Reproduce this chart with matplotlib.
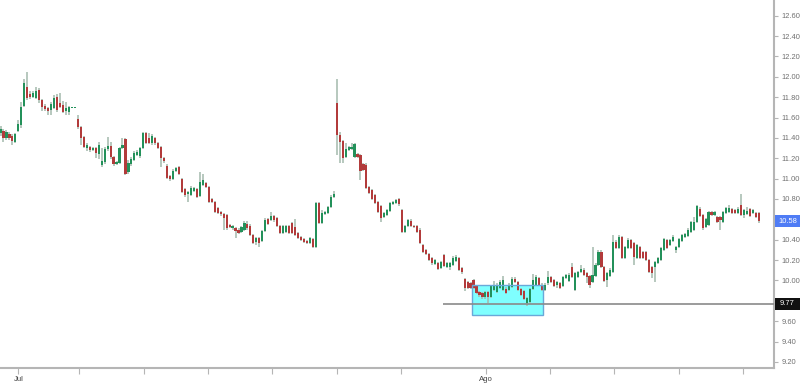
import matplotlib
matplotlib.use("Agg")
import matplotlib.pyplot as plt
from matplotlib.patches import Rectangle

# ----- candle data (hourly bars) -----
opens = [
    11.45, 11.47, 11.40, 11.44, 11.42, 11.36, 11.47, 11.53, 11.71,
    11.90, 11.83, 11.80, 11.79, 11.87, 11.77, 11.71, 11.69, 11.67, 11.69,
    11.80, 11.74, 11.72, 11.66, 11.65, 11.69, 11.69, 11.59, 11.51,
    11.41, 11.30, 11.31, 11.28, 11.30, 11.24, 11.13, 11.16, 11.29, 11.32,
    11.21, 11.14, 11.15, 11.30, 11.39, 11.06, 11.14, 11.18, 11.23,
    11.22, 11.30, 11.45, 11.40, 11.35, 11.40, 11.35, 11.31, 11.20,
    11.12, 11.03, 11.00, 11.07, 11.11, 11.00, 10.90, 10.85, 10.84,
    10.88, 10.90, 10.83, 10.94, 10.96, 10.92, 10.80, 10.77, 10.71, 10.67,
    10.65, 10.64, 10.54, 10.51, 10.51, 10.50, 10.48, 10.50, 10.55,
    10.53, 10.45, 10.38, 10.42, 10.39, 10.49, 10.60, 10.59, 10.63, 10.61,
    10.53, 10.47, 10.48, 10.53, 10.56, 10.52, 10.47, 10.43,
    10.41, 10.39, 10.37, 10.41, 10.33, 10.76, 10.56, 10.65, 10.66,
    10.72, 10.82, 11.74, 11.43, 11.37, 11.21, 11.28, 11.29, 11.21, 11.24,
    11.23, 11.14, 11.13, 10.92, 10.89, 10.84, 10.77, 10.73, 10.62, 10.64,
    10.68, 10.75, 10.76, 10.80, 10.69, 10.48, 10.53, 10.58, 10.53, 10.53,
    10.50, 10.35, 10.30, 10.26, 10.22, 10.16, 10.17, 10.12, 10.25, 10.13,
    10.13, 10.15, 10.19, 10.22, 10.12, 10.01, 9.98, 9.97, 10.00, 9.95,
    9.89, 9.88, 9.84, 9.89, 9.84, 9.91, 9.89, 9.93, 9.91, 9.92,
    9.91, 9.94, 10.01, 9.98, 9.92, 9.90, 9.78, 9.79, 9.92, 9.96,
    10.02, 9.96, 9.91, 9.97, 10.03, 10.00, 9.96, 9.97, 9.95, 10.02,
    9.99, 10.13, 9.91, 10.03, 10.08, 10.10, 10.07, 10.04, 9.98, 10.04,
    10.15, 10.28, 10.13, 10.00, 10.04, 10.08, 10.38, 10.32, 10.43, 10.22,
    10.32, 10.40, 10.37, 10.22, 10.33, 10.28, 10.28, 10.20, 10.13, 10.13,
    10.17, 10.20, 10.30, 10.40, 10.35, 10.39, 10.30, 10.33, 10.39, 10.43,
    10.44, 10.48, 10.50, 10.57, 10.70, 10.64, 10.52, 10.54, 10.67, 10.64,
    10.62, 10.62, 10.57, 10.66, 10.67, 10.70, 10.69, 10.66, 10.74, 10.64,
    10.65, 10.70, 10.66, 10.66, 10.66,
]
highs = [
    11.52, 11.49, 11.48, 11.46, 11.44, 11.45, 11.58, 11.75, 11.98,
    12.05, 11.86, 11.86, 11.90, 11.89, 11.78, 11.73, 11.70, 11.75, 11.82,
    11.83, 11.84, 11.76, 11.75, 11.71, 11.69, 11.69, 11.62, 11.52,
    11.42, 11.35, 11.32, 11.31, 11.31, 11.36, 11.30, 11.31, 11.41, 11.36,
    11.22, 11.17, 11.31, 11.40, 11.40, 11.18, 11.21, 11.27, 11.28,
    11.31, 11.46, 11.46, 11.45, 11.44, 11.41, 11.36, 11.32, 11.21,
    11.14, 11.04, 11.09, 11.11, 11.12, 11.01, 10.91, 10.88, 10.93,
    10.92, 10.91, 11.06, 11.05, 10.97, 10.93, 10.81, 10.78, 10.72, 10.68,
    10.66, 10.65, 10.55, 10.54, 10.52, 10.51, 10.53, 10.58, 10.58,
    10.55, 10.46, 10.43, 10.43, 10.50, 10.61, 10.61, 10.67, 10.64, 10.62,
    10.54, 10.54, 10.54, 10.54, 10.57, 10.60, 10.48, 10.44,
    10.42, 10.40, 10.43, 10.42, 10.77, 10.77, 10.69, 10.68, 10.73,
    10.84, 10.88, 11.98, 11.46, 11.38, 11.35, 11.32, 11.35, 11.35, 11.25,
    11.24, 11.15, 11.15, 10.93, 10.90, 10.85, 10.78, 10.74, 10.67, 10.70,
    10.77, 10.78, 10.80, 10.81, 10.70, 10.54, 10.60, 10.60, 10.54, 10.54,
    10.51, 10.36, 10.31, 10.27, 10.23, 10.21, 10.18, 10.19, 10.26, 10.18,
    10.18, 10.24, 10.25, 10.23, 10.13, 10.02, 9.99, 9.98, 10.01, 9.96,
    9.90, 9.89, 9.90, 9.90, 9.96, 9.99, 9.97, 10.00, 10.04, 9.94,
    9.97, 10.03, 10.03, 9.99, 9.93, 9.91, 9.84, 9.93, 10.06, 10.05,
    10.03, 9.97, 9.97, 10.09, 10.04, 10.01, 9.99, 9.98, 10.04, 10.06,
    10.07, 10.17, 10.08, 10.09, 10.15, 10.12, 10.08, 10.05, 10.33, 10.17,
    10.30, 10.30, 10.14, 10.08, 10.12, 10.45, 10.40, 10.45, 10.44, 10.34,
    10.42, 10.41, 10.38, 10.36, 10.34, 10.29, 10.29, 10.21, 10.14, 10.19,
    10.23, 10.33, 10.42, 10.41, 10.41, 10.45, 10.34, 10.42, 10.46, 10.47,
    10.51, 10.58, 10.62, 10.74, 10.72, 10.65, 10.61, 10.68, 10.68, 10.68,
    10.63, 10.63, 10.68, 10.72, 10.74, 10.71, 10.70, 10.72, 10.85, 10.70,
    10.72, 10.71, 10.70, 10.67, 10.67,
]
lows = [
    11.42, 11.36, 11.38, 11.38, 11.33, 11.35, 11.46, 11.50, 11.70,
    11.77, 11.78, 11.79, 11.78, 11.74, 11.66, 11.66, 11.62, 11.62, 11.68,
    11.65, 11.69, 11.64, 11.62, 11.62, 11.69, 11.69, 11.49, 11.33,
    11.30, 11.27, 11.26, 11.27, 11.20, 11.19, 11.11, 11.14, 11.27, 11.19,
    11.12, 11.13, 11.14, 11.29, 11.04, 11.05, 11.12, 11.17, 11.22,
    11.20, 11.29, 11.34, 11.34, 11.33, 11.33, 11.29, 11.11, 11.15,
    11.00, 10.98, 10.99, 11.06, 11.04, 10.86, 10.82, 10.77, 10.83,
    10.87, 10.81, 10.82, 10.93, 10.91, 10.76, 10.76, 10.66, 10.65, 10.63,
    10.50, 10.50, 10.51, 10.50, 10.42, 10.46, 10.47, 10.49, 10.50,
    10.44, 10.36, 10.35, 10.33, 10.38, 10.48, 10.54, 10.58, 10.57, 10.52,
    10.46, 10.46, 10.47, 10.46, 10.46, 10.44, 10.41, 10.39,
    10.37, 10.36, 10.36, 10.32, 10.32, 10.55, 10.55, 10.64, 10.65,
    10.71, 10.81, 11.23, 11.15, 11.15, 11.20, 11.27, 11.28, 11.20, 11.20,
    10.99, 11.07, 10.90, 10.85, 10.79, 10.75, 10.66, 10.57, 10.61, 10.63,
    10.67, 10.74, 10.75, 10.73, 10.47, 10.47, 10.52, 10.52, 10.51, 10.47,
    10.36, 10.27, 10.25, 10.19, 10.15, 10.15, 10.10, 10.11, 10.13, 10.12,
    10.10, 10.14, 10.18, 10.09, 10.06, 9.90, 9.92, 9.92, 9.92, 9.87,
    9.84, 9.82, 9.82, 9.78, 9.83, 9.90, 9.88, 9.92, 9.90, 9.87,
    9.90, 9.93, 9.97, 9.90, 9.85, 9.81, 9.75, 9.78, 9.91, 9.95,
    9.95, 9.90, 9.90, 9.96, 9.97, 9.94, 9.93, 9.92, 9.94, 10.01,
    9.98, 10.02, 9.90, 10.02, 10.07, 10.04, 9.97, 9.93, 9.97, 10.03,
    10.14, 10.12, 9.98, 9.94, 10.03, 10.07, 10.31, 10.31, 10.21, 10.21,
    10.31, 10.31, 10.15, 10.21, 10.21, 10.21, 10.19, 10.07, 10.02, 9.98,
    10.16, 10.19, 10.29, 10.31, 10.34, 10.38, 10.27, 10.32, 10.38, 10.42,
    10.43, 10.47, 10.49, 10.56, 10.62, 10.50, 10.51, 10.53, 10.63, 10.63,
    10.56, 10.50, 10.56, 10.65, 10.66, 10.65, 10.65, 10.65, 10.63, 10.61,
    10.64, 10.62, 10.65, 10.61, 10.56,
]
closes = [
    11.49, 11.40, 11.46, 11.40, 11.37, 11.44, 11.54, 11.70, 11.94,
    11.79, 11.80, 11.84, 11.86, 11.77, 11.70, 11.68, 11.66, 11.73, 11.79,
    11.67, 11.70, 11.65, 11.69, 11.70, 11.69, 11.69, 11.51, 11.40,
    11.31, 11.33, 11.28, 11.30, 11.25, 11.33, 11.17, 11.29, 11.32, 11.21,
    11.14, 11.16, 11.30, 11.33, 11.05, 11.15, 11.19, 11.25, 11.26,
    11.30, 11.45, 11.35, 11.35, 11.42, 11.35, 11.30, 11.20, 11.17,
    11.01, 11.00, 11.07, 11.10, 11.05, 10.87, 10.84, 10.87, 10.91,
    10.91, 10.82, 10.97, 10.99, 10.92, 10.77, 10.77, 10.67, 10.66, 10.65,
    10.61, 10.51, 10.52, 10.53, 10.49, 10.47, 10.52, 10.56, 10.51,
    10.45, 10.37, 10.42, 10.37, 10.49, 10.59, 10.55, 10.63, 10.59, 10.53,
    10.47, 10.53, 10.53, 10.47, 10.47, 10.45, 10.42, 10.40,
    10.38, 10.37, 10.42, 10.33, 10.76, 10.56, 10.66, 10.67, 10.72,
    10.82, 10.85, 11.43, 11.36, 11.20, 11.29, 11.31, 11.31, 11.34, 11.21,
    11.07, 11.08, 10.91, 10.86, 10.80, 10.76, 10.67, 10.61, 10.66, 10.69,
    10.76, 10.77, 10.79, 10.75, 10.48, 10.53, 10.59, 10.53, 10.52, 10.48,
    10.37, 10.28, 10.26, 10.20, 10.17, 10.20, 10.11, 10.18, 10.14, 10.17,
    10.17, 10.22, 10.23, 10.10, 10.08, 9.93, 9.93, 9.93, 9.93, 9.88,
    9.86, 9.84, 9.89, 9.84, 9.95, 9.96, 9.95, 9.98, 10.00, 9.88,
    9.96, 10.01, 9.98, 9.91, 9.86, 9.82, 9.83, 9.92, 10.00, 10.03,
    9.96, 9.91, 9.96, 10.03, 9.98, 9.95, 9.98, 9.93, 10.03, 10.05,
    10.05, 10.03, 10.07, 10.08, 10.11, 10.05, 10.03, 9.96, 10.05, 10.15,
    10.28, 10.13, 9.99, 10.07, 10.10, 10.38, 10.32, 10.43, 10.22, 10.33,
    10.40, 10.32, 10.23, 10.35, 10.22, 10.22, 10.20, 10.08, 10.07, 10.18,
    10.22, 10.32, 10.41, 10.32, 10.40, 10.43, 10.33, 10.41, 10.45, 10.46,
    10.50, 10.57, 10.57, 10.73, 10.63, 10.51, 10.60, 10.67, 10.64, 10.67,
    10.57, 10.59, 10.67, 10.71, 10.71, 10.66, 10.66, 10.70, 10.64, 10.69,
    10.68, 10.63, 10.69, 10.62, 10.58,
]

# axis labels / annotations
price_ticks = [9.20, 9.40, 9.60, 9.80, 10.00, 10.20, 10.40, 10.60, 10.80,
               11.00, 11.20, 11.40, 11.60, 11.80, 12.00, 12.20, 12.40, 12.60]
day_ticks = [6.0, 26.4, 48.2, 69.7, 91.3, 113.1, 134.5, 163.2, 184.7, 206.2, 228.1, 249.6]
day_labels = ["Jul", "", "", "", "", "", "", "Ago", "", "", "", ""]
last_price = 10.58
support = 9.77
support_from = 148.7
zone_x = (158.5, 182.5)
zone_y = (9.66, 9.955)

UP = "#23915a"
DOWN = "#b23b3b"
WICK = "#a3b9ac"
FONT = ["Liberation Sans", "DejaVu Sans"]

fig = plt.figure(figsize=(8.0, 3.83), dpi=100)
ax = fig.add_axes([0.0, 15 / 383, 774 / 800, 368 / 383])

x = list(range(len(closes)))
body_lo = [min(o, c) for o, c in zip(opens, closes)]
body_h = [max(abs(c - o), 0.012) for o, c in zip(opens, closes)]
colors = [UP if c >= o else DOWN for o, c in zip(opens, closes)]

zw, zh = zone_x[1] - zone_x[0], zone_y[1] - zone_y[0]
ax.add_patch(Rectangle((zone_x[0], zone_y[0]), zw, zh,
                       facecolor="#00ffff", alpha=0.5, edgecolor="none", zorder=1))
ax.add_patch(Rectangle((zone_x[0], zone_y[0]), zw, zh,
                       facecolor="none", edgecolor="#6aa8d8", linewidth=1.0, zorder=4))

ax.vlines(x, lows, highs, color=WICK, linewidth=1.1, zorder=2)
ax.bar(x, body_h, bottom=body_lo, width=0.72, color=colors, linewidth=0, zorder=3)

xmax = 260.0
ax.hlines(support, support_from, xmax, color="#8a8a8a", linewidth=1.2, zorder=5)

ax.set_xlim(-0.17, xmax)
ax.set_ylim(9.14, 12.754)

for side in ("top", "left"):
    ax.spines[side].set_visible(False)
for side in ("right", "bottom"):
    ax.spines[side].set_color("#b5b5b5")
    ax.spines[side].set_linewidth(1.5)

# price labels hidden behind the two tags are left blank
ylabels = ["" if min(abs(v - last_price), abs(v - support)) < 0.1 else f"{v:.2f}"
           for v in price_ticks]
ax.yaxis.tick_right()
ax.set_yticks(price_ticks)
ax.set_yticklabels(ylabels)
ax.tick_params(axis="y", direction="out", length=3, width=0.8, color="#b5b5b5",
               labelcolor="#707070", labelsize=5.4, pad=2.5)
ax.set_xticks(day_ticks)
ax.set_xticklabels(day_labels)
ax.tick_params(axis="x", direction="out", length=4, width=0.8, color="#b5b5b5",
               labelcolor="#444444", labelsize=5.6, pad=1.5)
for lab in ax.get_xticklabels() + ax.get_yticklabels():
    lab.set_fontfamily(FONT)

# price tags on the axis
ytr = ax.get_yaxis_transform()
for val, bg in ((last_price, "#4f7cf5"), (support, "#111111")):
    ax.add_patch(Rectangle((1.0015, val - 0.06), 0.0315, 0.12, transform=ytr,
                           facecolor=bg, edgecolor="none", clip_on=False, zorder=6))
    ax.text(1.0175, val, f"{val:.2f}", transform=ytr, ha="center", va="center",
            color="white", fontsize=5.4, family=FONT, clip_on=False, zorder=7)

fig.savefig("out.png", dpi=100)
plt.close(fig)
